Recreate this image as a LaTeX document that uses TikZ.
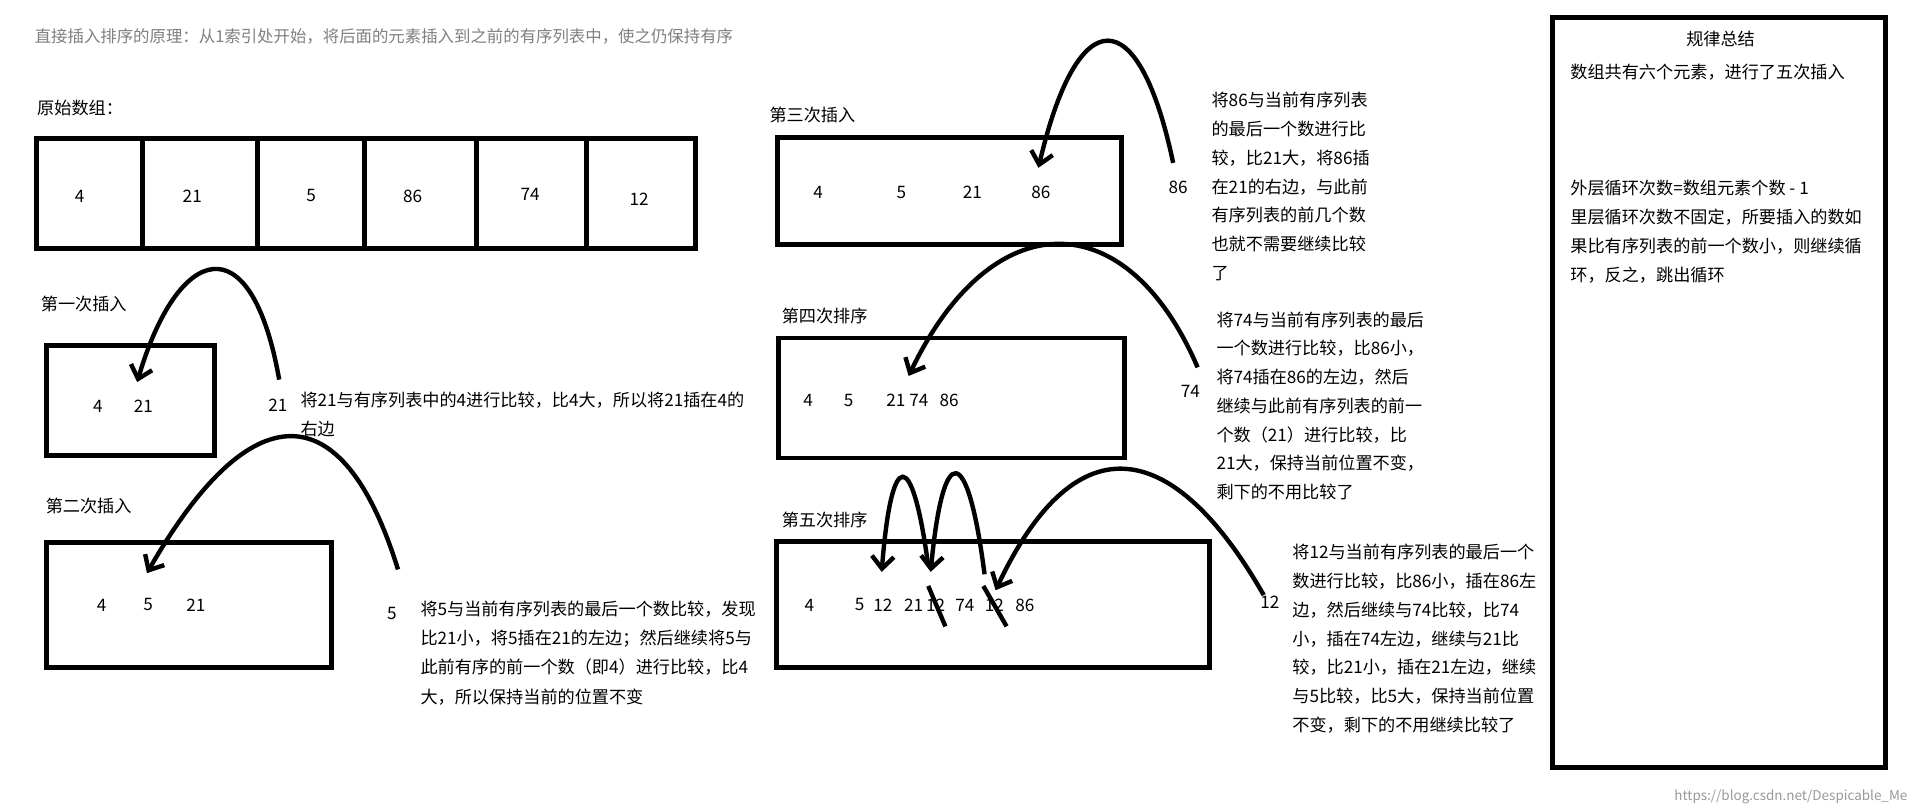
\documentclass[tikz,border=0pt]{standalone}
\usepackage{fontspec}
\setmainfont{Noto Sans CJK SC}
\usetikzlibrary{arrows.meta}
\begin{document}
\begin{tikzpicture}[x=0.5pt,y=-0.5pt,
  txt/.style={anchor=north west,inner sep=0pt,align=left,font=\fontsize{7}{11.75}\selectfont},
  num/.style={inner sep=0pt,font=\fontsize{7}{8}\selectfont},
  box/.style={draw,line width=2pt},
  arc/.style={line width=1.8pt,-{Straight Barb[length=5pt,width=9pt,line width=1.8pt]}},
  strike/.style={line width=1.8pt}]
\useasboundingbox[fill=white] (0,0) rectangle (1563,663);
\node[txt,text=gray,font=\fontsize{6.7}{8}\selectfont] (title) at (28,23) {直接插入排序的原理：从1索引处开始，将后面的元素插入到之前的有序列表中，使之仍保持有序};
% original array
\node[txt] (l0) at (30,81) {原始数组：};
\draw[box] (30,113) rectangle (568,203);
\foreach \x in {116,210,298,389,479} \draw[box] (\x,113) -- (\x,203);
\node[num] (a1) at (65,160) {4};
\node[num] (a2) at (157,160) {21};
\node[num] (a3) at (254,160) {5};
\node[num] (a4) at (337,160) {86};
\node[num] (a5) at (433,159) {74};
\node[num] (a6) at (522,163) {12};
% first
\node[txt] (l1) at (33,241) {第一次插入};
\draw[box] (38,282) rectangle (175,372);
\node[num] (b1) at (80,332) {4};
\node[num] (b2) at (117,332) {21};
\coordinate (s1) at (228,310); \coordinate (h1) at (112,312);
\draw[arc] (s1) .. controls (205,180) and (145,200) .. (h1);
\node[num] (k1) at (227,331) {21};
\node[txt] (t1) at (245,320) {将21与有序列表中的4进行比较，比4大，所以将21插在4的\\右边};
% second
\node[txt] (l2) at (37,406) {第二次插入};
\draw[box] (38,443) rectangle (271,545);
\node[num] (c1) at (83,494) {4};
\node[num] (c2) at (121,494) {5};
\node[num] (c3) at (160,494) {21};
\coordinate (s2) at (325,465); \coordinate (h2) at (120,468);
\draw[arc] (s2) .. controls (280,320) and (205,320) .. (h2);
\node[num] (k2) at (320,501) {5};
\node[txt,font=\fontsize{7}{12}\selectfont] (t2) at (343,490) {将5与当前有序列表的最后一个数比较，发现\\比21小，将5插在21的左边；然后继续将5与\\此前有序的前一个数（即4）进行比较，比4\\大，所以保持当前的位置不变};
% third
\node[txt] (l3) at (628,87) {第三次插入};
\draw[box] (635,112) rectangle (916,200);
\node[num] (d1) at (668,157) {4};
\node[num] (d2) at (736,157) {5};
\node[num] (d3) at (794,157) {21};
\node[num] (d4) at (850,157) {86};
\coordinate (s3) at (958,133); \coordinate (h3) at (848,137);
\draw[arc] (s3) .. controls (930,0) and (880,0) .. (h3);
\node[num] (k3) at (962,153) {86};
\node[txt] (t3) at (989,75) {将86与当前有序列表\\的最后一个数进行比\\较，比21大，将86插\\在21的右边，与此前\\有序列表的前几个数\\也就不需要继续比较\\了};
% fourth
\node[txt] (l4) at (638,251) {第四次排序};
\draw[box] (636,276) rectangle (918,374);
\node[num] (e1) at (660,327) {4};
\node[num] (e2) at (693,327) {5};
\node[num] (e3) at (741,327) {21 74};
\node[num] (e4) at (775,327) {86};
\coordinate (s4) at (978,300); \coordinate (h4) at (742,307);
\draw[arc] (s4) .. controls (920,165) and (810,165) .. (h4);
\node[num] (k4) at (972,320) {74};
\node[txt] (t4) at (993,254) {将74与当前有序列表的最后\\一个数进行比较，比86小，\\将74插在86的左边，然后\\继续与此前有序列表的前一\\个数（21）进行比较，比\\21大，保持当前位置不变，\\剩下的不用比较了};
% fifth
\node[txt] (l5) at (638,418) {第五次排序};
\draw[box] (634,442) rectangle (988,545);
\node[num] (f1) at (661,494) {4};
\node[num] (f2) at (702,494) {5};
\node[num] (f3) at (721,494) {12};
\node[num] (f4) at (746,494) {21};
\node[num] (f5) at (764,494) {12};
\node[num] (f6) at (788,494) {74};
\node[num] (f7) at (812,494) {12};
\node[num] (f8) at (837,494) {86};
\coordinate (sa) at (758,462); \coordinate (ha) at (720,467);
\draw[arc] (sa) .. controls (745,365) and (728,365) .. (ha);
\coordinate (sb) at (804,469); \coordinate (hb) at (760,467);
\draw[arc] (sb) .. controls (790,360) and (770,360) .. (hb);
\coordinate (sc) at (1032,486); \coordinate (hc) at (813,482);
\draw[arc] (sc) .. controls (960,360) and (880,340) .. (hc);
\draw[strike] (f5.north) ++(-6,-10) coordinate (x1) -- ++(14,33) coordinate (x2);
\draw[strike] (f7.north) ++(-9,-10) coordinate (x3) -- ++(19,33) coordinate (x4);
\node[num] (k5) at (1037,492) {12};
\node[txt] (t5) at (1055,444) {将12与当前有序列表的最后一个\\数进行比较，比86小，插在86左\\边，然后继续与74比较，比74\\小，插在74左边，继续与21比\\较，比21小，插在21左边，继续\\与5比较，比5大，保持当前位置\\不变，剩下的不用继续比较了};
% summary
\draw[box] (1268,14) rectangle (1540,627);
\node[num] (g0) at (1405,32) {规律总结};
\node[txt] (g1) at (1282,52) {数组共有六个元素，进行了五次插入};
\node[txt] (g2) at (1282,147) {外层循环次数=数组元素个数 - 1\\里层循环次数不固定，所要插入的数如\\果比有序列表的前一个数小，则继续循\\环，反之，跳出循环};
\node[num,anchor=east,text=gray!80,font=\fontsize{5.5}{6}\selectfont] (wm) at (1558,651) {https://blog.csdn.net/Despicable\_Me};
\end{tikzpicture}
\end{document}
